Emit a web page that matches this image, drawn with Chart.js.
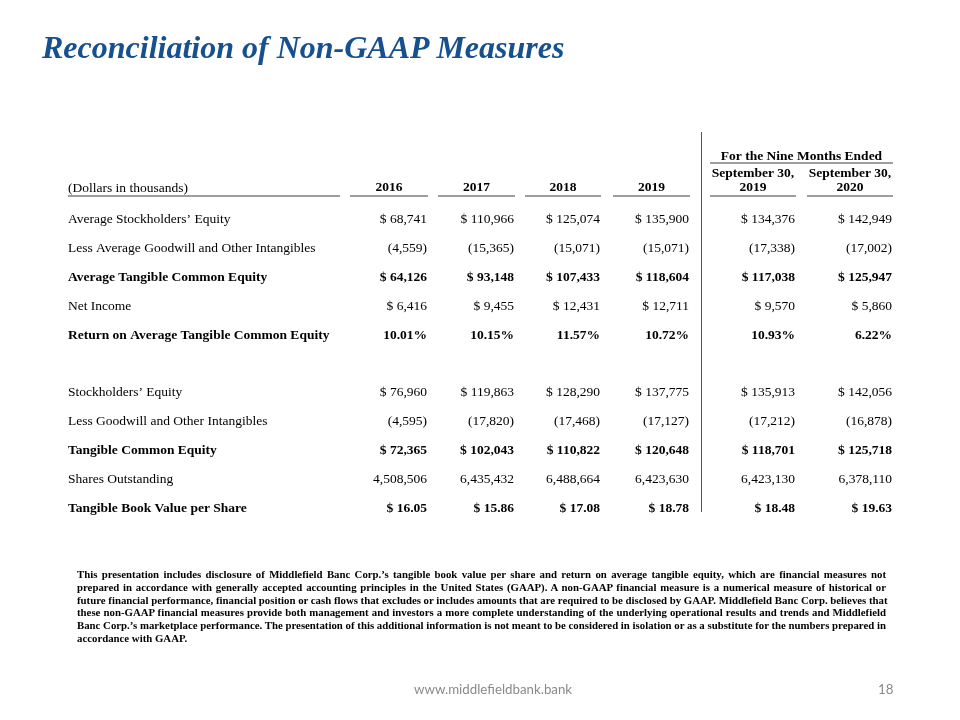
<!DOCTYPE html>
<html>
<head>
<meta charset="utf-8">
<script src="https://cdn.jsdelivr.net/npm/chart.js@4"></script>
<style>
  html, body { margin: 0; padding: 0; background: #fff; }
  .page { position: relative; width: 960px; height: 720px; overflow: hidden; }
  #table-chart { position: absolute; left: 0; top: 0; }
  .title {
    position: absolute; left: 42px; top: 31px; margin: 0;
    font: italic bold 32px "Liberation Serif", serif; line-height: 32px;
    color: #17508e; white-space: nowrap;
  }
  .note {
    position: absolute; left: 77px; top: 568px; width: 809px;
    font: bold 10.8px "Liberation Serif", serif; line-height: 12.8px; color: #000;
  }
  .note div { text-align: justify; text-align-last: justify; white-space: nowrap; }
  .note div:last-child { text-align-last: left; }
  .footer {
    position: absolute; top: 681px; font: 13.3px Lato, sans-serif; color: #8a8a8a;
  }
</style>
</head>
<body>
<div class="page">
  <canvas id="table-chart" width="960" height="720"></canvas>
  <h1 class="title">Reconciliation of Non-GAAP Measures</h1>
  <div class="note">
    <div>This presentation includes disclosure of Middlefield Banc Corp.’s tangible book value per share and return on average tangible equity, which are financial measures not</div>
    <div>prepared in accordance with generally accepted accounting principles in the United States (GAAP). A non-GAAP financial measure is a numerical measure of historical or</div>
    <div>future financial performance, financial position or cash flows that excludes or includes amounts that are required to be disclosed by GAAP. Middlefield Banc Corp. believes that</div>
    <div>these non-GAAP financial measures provide both management and investors a more complete understanding of the underlying operational results and trends and Middlefield</div>
    <div>Banc Corp.’s marketplace performance. The presentation of this additional information is not meant to be considered in isolation or as a substitute for the numbers prepared in</div>
    <div>accordance with GAAP.</div>
  </div>
  <div class="footer" style="left:414px">www.middlefieldbank.bank</div>
  <div class="footer" style="left:878px">18</div>
</div>
<script>
// columns (years, then nine months ended)
const columns = ['2016', '2017', '2018', '2019', 'September 30, 2019', 'September 30, 2020'];

// rows ('' is the spacer row between the two blocks)
const rowLabels = [
  'Average Stockholders’ Equity',
  'Less Average Goodwill and Other Intangibles',
  'Average Tangible Common Equity',
  'Net Income',
  'Return on Average Tangible Common Equity',
  '',
  'Stockholders’ Equity',
  'Less Goodwill and Other Intangibles',
  'Tangible Common Equity',
  'Shares Outstanding',
  'Tangible Book Value per Share'
];
const boldRows = ['Average Tangible Common Equity', 'Return on Average Tangible Common Equity',
  'Tangible Common Equity', 'Tangible Book Value per Share'];

// values, dollars in thousands
const avgEquity       = [68741, 110966, 125074, 135900, 134376, 142949];
const avgIntangibles  = [-4559, -15365, -15071, -15071, -17338, -17002];
const avgTangibleEq   = [64126, 93148, 107433, 118604, 117038, 125947];
const netIncome       = [6416, 9455, 12431, 12711, 9570, 5860];
const returnOnTce     = [10.01, 10.15, 11.57, 10.72, 10.93, 6.22];
const equity          = [76960, 119863, 128290, 137775, 135913, 142056];
const intangibles     = [-4595, -17820, -17468, -17127, -17212, -16878];
const tangibleEq      = [72365, 102043, 110822, 120648, 118701, 125718];
const sharesOut       = [4508506, 6435432, 6488664, 6423630, 6423130, 6378110];
const bookValue       = [16.05, 15.86, 17.08, 18.78, 18.48, 19.63];

const rows = [
  { label: rowLabels[0], values: avgEquity, fmt: 'dollar' },
  { label: rowLabels[1], values: avgIntangibles, fmt: 'neg' },
  { label: rowLabels[2], values: avgTangibleEq, fmt: 'dollar' },
  { label: rowLabels[3], values: netIncome, fmt: 'dollar' },
  { label: rowLabels[4], values: returnOnTce, fmt: 'pct' },
  { label: rowLabels[6], values: equity, fmt: 'dollar' },
  { label: rowLabels[7], values: intangibles, fmt: 'neg' },
  { label: rowLabels[8], values: tangibleEq, fmt: 'dollar' },
  { label: rowLabels[9], values: sharesOut, fmt: 'plain' },
  { label: rowLabels[10], values: bookValue, fmt: 'cents' }
];

// layout: column edges on the x scale (scale is set up 1 unit = 1 px)
const colLeft  = [350, 438, 525, 613, 710, 807];
const colRight = [428, 515, 601, 690, 796, 893];
const FONT = '"Liberation Serif", serif';
const SIZE = 13.5;

function fmtValue(v, fmt) {
  const n = Math.abs(v).toLocaleString('en-US');
  if (fmt === 'dollar') return '$ ' + n;
  if (fmt === 'neg') return v < 0 ? '(' + n + ')' : n;
  if (fmt === 'pct') return v.toFixed(2) + '%';
  if (fmt === 'cents') return '$ ' + v.toFixed(2);
  return n;
}

const cellText = {
  id: 'cellText',
  afterDatasetsDraw(chart) {
    const ctx = chart.ctx;
    ctx.save();
    ctx.fillStyle = '#000';
    ctx.textAlign = 'right';
    ctx.textBaseline = 'middle';
    chart.data.datasets.forEach((ds, i) => {
      const meta = chart.getDatasetMeta(i);
      ctx.font = (boldRows.includes(ds.label) ? 'bold ' : '') + SIZE + 'px ' + FONT;
      meta.data.forEach((pt, j) => {
        ctx.fillText(fmtValue(ds.data[j].v, ds.fmt), pt.x - 1, pt.y);
      });
    });
    ctx.restore();
  }
};

const header = {
  id: 'header',
  afterDraw(chart) {
    const { ctx, scales: { x, y } } = chart;
    const lineY = 196;
    ctx.save();
    ctx.fillStyle = '#000';
    ctx.textBaseline = 'middle';
    ctx.font = SIZE + 'px ' + FONT;
    ctx.textAlign = 'left';
    ctx.fillText('(Dollars in thousands)', 68, lineY - 8);

    ctx.font = 'bold ' + SIZE + 'px ' + FONT;
    ctx.textAlign = 'center';
    columns.forEach((c, i) => {
      const cx = (x.getPixelForValue(colLeft[i]) + x.getPixelForValue(colRight[i])) / 2;
      const parts = c.match(/^(.*\d,) (\d{4})$/);
      if (parts) {
        ctx.fillText(parts[1], cx, lineY - 22);
        ctx.fillText(parts[2], cx, lineY - 8);
      } else {
        ctx.fillText(c, cx, lineY - 8);
      }
    });
    const nmL = x.getPixelForValue(colLeft[4]), nmR = x.getPixelForValue(colRight[5]);
    ctx.fillText('For the Nine Months Ended', (nmL + nmR) / 2, lineY - 39);

    ctx.strokeStyle = '#7f7f7f';
    ctx.lineWidth = 1.6;
    ctx.beginPath();
    ctx.moveTo(68, lineY); ctx.lineTo(x.getPixelForValue(340), lineY);
    colLeft.forEach((l, i) => {
      ctx.moveTo(x.getPixelForValue(l), lineY);
      ctx.lineTo(x.getPixelForValue(colRight[i]), lineY);
    });
    ctx.moveTo(nmL, lineY - 33); ctx.lineTo(nmR, lineY - 33);
    ctx.stroke();

    // divider between full years and the nine month columns
    ctx.strokeStyle = '#555';
    ctx.lineWidth = 1;
    const vx = Math.round(x.getPixelForValue(701)) + 0.5;
    ctx.beginPath();
    ctx.moveTo(vx, 132);
    ctx.lineTo(vx, 512);
    ctx.stroke();
    ctx.restore();
  }
};

new Chart(document.getElementById('table-chart'), {
  type: 'scatter',
  data: {
    datasets: rows.map(r => ({
      label: r.label,
      fmt: r.fmt,
      data: r.values.map((v, j) => ({ x: colRight[j], y: r.label, v: v })),
      pointRadius: 0,
      pointHoverRadius: 0
    }))
  },
  options: {
    responsive: false,
    animation: false,
    events: [],
    layout: { padding: { left: 68, right: 0, top: 205, bottom: 197 } },
    plugins: { legend: { display: false }, tooltip: { enabled: false } },
    scales: {
      x: { type: 'linear', min: 340, max: 960, display: false },
      y: {
        type: 'category',
        labels: rowLabels,
        offset: true,
        grid: { display: false },
        border: { display: false },
        afterFit: s => { s.width = 272; },
        ticks: {
          autoSkip: false,
          crossAlign: 'far',
          padding: 0,
          color: '#000',
          font: c => ({ family: FONT, size: SIZE, weight: boldRows.includes(rowLabels[c.index]) ? 'bold' : 'normal' })
        }
      }
    }
  },
  plugins: [cellText, header]
});
</script>
</body>
</html>
